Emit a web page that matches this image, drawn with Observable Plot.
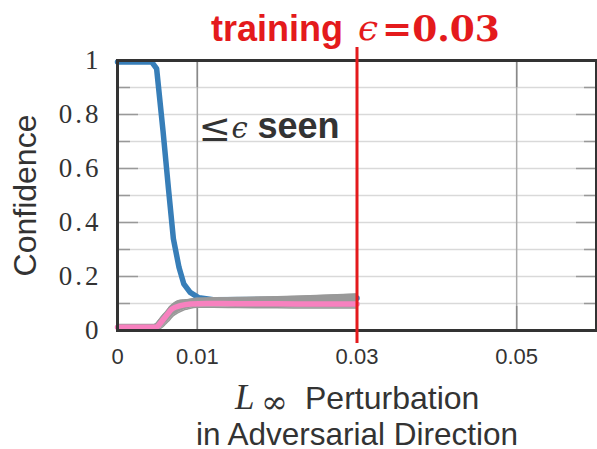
<!DOCTYPE html>
<html>
<head>
<meta charset="utf-8">
<script src="https://cdn.jsdelivr.net/npm/d3@7"></script>
<script src="https://cdn.jsdelivr.net/npm/@observablehq/plot@0.6"></script>
<style>
  html, body { margin: 0; padding: 0; background: white; }
</style>
</head>
<body>
<div id="chart"></div>
<script>
// ---- data ----
const blueX = [0, 0.0043, 0.0049, 0.0057, 0.0064, 0.0070, 0.0077, 0.0083, 0.0091, 0.0102, 0.012, 0.02, 0.03];
const blueY = [0.994, 0.994, 0.97, 0.74, 0.52, 0.34, 0.234, 0.173, 0.141, 0.121, 0.114, 0.115, 0.12];

const pinkX = [0, 0.00475, 0.0058, 0.00685, 0.0079, 0.00915, 0.0112, 0.015, 0.02, 0.025, 0.03];
const pinkY = [0.012, 0.012, 0.043, 0.08, 0.092, 0.098, 0.1, 0.099, 0.099, 0.098, 0.098];

const grayX     = [0, 0.0046, 0.0052, 0.0056, 0.006, 0.0066, 0.007, 0.0076, 0.0083, 0.0087, 0.0099, 0.012, 0.015, 0.02, 0.025, 0.03];
const grayUpper = [0.022, 0.022, 0.04, 0.055, 0.068, 0.09, 0.1, 0.11, 0.113, 0.114, 0.119, 0.121, 0.122, 0.125, 0.13, 0.135];
const grayLower = [0, 0, 0.005, 0.012, 0.024, 0.042, 0.055, 0.066, 0.076, 0.079, 0.086, 0.086, 0.085, 0.084, 0.083, 0.083];

const trainingEps = [0.03];
const xTicks = [0, 0.01, 0.03, 0.05];
const xTickLabels = ["0", "0.01", "0.03", "0.05"];
const xGrid = [0.01, 0.03, 0.05];
const yTicks = [0, 0.2, 0.4, 0.6, 0.8, 1];
const yTickLabels = ["0", "0.2", "0.4", "0.6", "0.8", "1"];
const yMinor = [0.1, 0.3, 0.5, 0.7, 0.9];
const yGrid = [0.1, 0.2, 0.3, 0.4, 0.5, 0.6, 0.7, 0.8, 0.9];

const RED = "#e41a1c", BLUE = "#377eb8", PINK = "#f781bf", GRAY = "#999999", INK = "#333333";

const blue = blueX.map((x, i) => ({x, y: blueY[i]}));
const pink = pinkX.map((x, i) => ({x, y: pinkY[i]}));
const gray = grayX.map((x, i) => ({x, y1: grayLower[i], y2: grayUpper[i]}));

const one = [0];
const sans = "Liberation Sans, Arial, Helvetica, sans-serif";
const serif = "Liberation Serif, DejaVu Serif, serif";

const chart = Plot.plot({
  width: 597,
  height: 449,
  marginLeft: 117,
  marginRight: 1,
  marginTop: 60,
  marginBottom: 119,
  x: {domain: [0, 0.06]},
  y: {domain: [0, 1]},
  style: {background: "white", color: INK},
  marks: [
    Plot.ruleY(yGrid, {stroke: "#d9d9d9", strokeWidth: 1.5}),
    Plot.ruleX(xGrid, {stroke: "#aaaaaa", strokeWidth: 1.5}),
    // inward ticks
    Plot.axisY(yTicks, {anchor: "left", tickSize: -21, stroke: "#999", strokeWidth: 1.5, tickFormat: () => "", label: null}),
    Plot.axisY(yMinor, {anchor: "left", tickSize: -13, stroke: "#999", strokeWidth: 1.5, tickFormat: () => "", label: null}),
    Plot.axisY(yTicks, {anchor: "right", tickSize: -21, stroke: "#999", strokeWidth: 1.5, tickFormat: () => "", label: null}),
    Plot.axisY(yMinor, {anchor: "right", tickSize: -13, stroke: "#999", strokeWidth: 1.5, tickFormat: () => "", label: null}),
    Plot.axisX(xGrid, {anchor: "bottom", tickSize: -24, stroke: "#888", strokeWidth: 1.5, tickFormat: () => "", label: null}),
    Plot.axisX(xGrid, {anchor: "top", tickSize: -26, stroke: "#888", strokeWidth: 1.5, tickFormat: () => "", label: null}),
    // tick labels
    Plot.axisY(yTicks, {anchor: "left", tickSize: 0, tickPadding: 16, tickFormat: d => yTickLabels[yTicks.indexOf(d)],
      fontSize: 27, fontFamily: serif, fill: INK, label: null}),
    Plot.axisX(xTicks, {anchor: "bottom", tickSize: 0, tickPadding: 18, tickFormat: d => xTickLabels[xTicks.indexOf(d)],
      fontSize: 22, fontFamily: sans, fill: INK, label: null}),
    // data
    Plot.line(blue, {x: "x", y: "y", stroke: BLUE, strokeWidth: 5.5, curve: "linear", strokeLinejoin: "round"}),
    Plot.areaY(gray, {x: "x", y1: "y1", y2: "y2", fill: GRAY, curve: "monotone-x"}),
    Plot.line(gray, {x: "x", y: "y1", stroke: GRAY, strokeWidth: 1.5, curve: "monotone-x"}),
    Plot.line(gray, {x: "x", y: "y2", stroke: GRAY, strokeWidth: 1.5, curve: "monotone-x"}),
    Plot.line(pink, {x: "x", y: "y", stroke: PINK, strokeWidth: 5.5, curve: "monotone-x"}),
    Plot.frame({stroke: INK, strokeWidth: 3}),
    Plot.ruleX(trainingEps, {stroke: RED, strokeWidth: 3, insetTop: -13, insetBottom: -13}),
    // title
    Plot.text(one, {text: () => "training", frameAnchor: "top", dx: -14, dy: -20, textAnchor: "end", lineAnchor: "bottom",
      fill: RED, fontSize: 36, fontWeight: "bold", fontFamily: sans}),
    Plot.text(one, {text: () => "ϵ", frameAnchor: "top", dx: 1, dy: -21, textAnchor: "start", lineAnchor: "bottom",
      fill: RED, fontSize: 36, fontStyle: "italic", fontFamily: "DejaVu Serif, serif"}),
    Plot.text(one, {text: () => "=0.03", frameAnchor: "top", dx: 25, dy: -20, textAnchor: "start", lineAnchor: "bottom",
      fill: RED, fontSize: 36, fontWeight: "bold", fontFamily: "DejaVu Serif, serif"}),
    // annotation
    Plot.text(one, {ariaLabel: "note", text: () => "≤", frameAnchor: "top-left", dx: 81, dy: 80, textAnchor: "start", lineAnchor: "bottom",
      fill: INK, fontSize: 39, fontFamily: "DejaVu Serif, serif"}),
    Plot.text(one, {ariaLabel: "note", text: () => "ϵ", frameAnchor: "top-left", dx: 114, dy: 77, textAnchor: "start", lineAnchor: "bottom",
      fill: INK, fontSize: 29, fontStyle: "italic", fontFamily: "DejaVu Serif, serif"}),
    Plot.text(one, {ariaLabel: "note", text: () => "seen", frameAnchor: "top-left", dx: 140, dy: 77, textAnchor: "start", lineAnchor: "bottom",
      fill: INK, fontSize: 36, fontWeight: "bold", fontFamily: sans}),
    // y label
    Plot.text(one, {text: () => "Confidence", frameAnchor: "left", dx: -82, dy: 0, rotate: -90, textAnchor: "middle", lineAnchor: "bottom",
      fill: INK, fontSize: 32, fontFamily: sans}),
    // x label
    Plot.text(one, {text: () => "L", frameAnchor: "bottom", dx: -122, dy: 78, textAnchor: "start", lineAnchor: "bottom",
      fill: INK, fontSize: 35, fontStyle: "italic", fontFamily: serif}),
    Plot.text(one, {text: () => "∞", frameAnchor: "bottom", dx: -96, dy: 82, textAnchor: "start", lineAnchor: "bottom",
      fill: INK, fontSize: 32, fontFamily: "DejaVu Serif, serif"}),
    Plot.text(one, {text: () => "Perturbation", frameAnchor: "bottom", dx: -52, dy: 78, textAnchor: "start", lineAnchor: "bottom",
      fill: INK, fontSize: 32, fontFamily: sans}),
    Plot.text(one, {text: () => "in Adversarial Direction", frameAnchor: "bottom", dx: 0, dy: 114, textAnchor: "middle", lineAnchor: "bottom",
      fill: INK, fontSize: 31.5, fontFamily: sans})
  ]
});

document.getElementById("chart").appendChild(chart);

// letter spacing for the serif y tick labels
d3.select(chart).selectAll('g[aria-label="y-axis tick label"] text').style("letter-spacing", "3px");

// white box behind the annotation
const notes = chart.querySelectorAll('g[aria-label="note"]');
if (notes.length) {
  let x0 = Infinity, y0 = Infinity, x1 = -Infinity, y1 = -Infinity;
  notes.forEach(g => {
    const b = g.getBBox();
    x0 = Math.min(x0, b.x); y0 = Math.min(y0, b.y);
    x1 = Math.max(x1, b.x + b.width); y1 = Math.max(y1, b.y + b.height);
  });
  const ns = "http://www.w3.org/2000/svg";
  const r = document.createElementNS(ns, "rect");
  r.setAttribute("x", x0 - 4); r.setAttribute("y", y0);
  r.setAttribute("width", x1 - x0 + 12); r.setAttribute("height", y1 - y0 + 4);
  r.setAttribute("fill", "white");
  notes[0].parentNode.insertBefore(r, notes[0]);
}
</script>
</body>
</html>
